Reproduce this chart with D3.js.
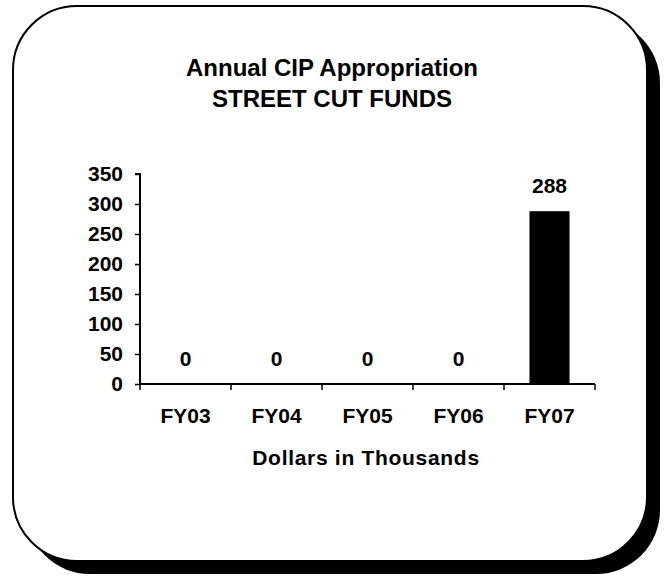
<!DOCTYPE html>
<html>
<head>
<meta charset="utf-8">
<script src="https://cdn.jsdelivr.net/npm/d3@7"></script>
<style>
  body { margin: 0; background: #fff; }
  svg text { font-family: "Liberation Sans", Arial, sans-serif; font-weight: bold; fill: #000; }
</style>
</head>
<body>
<svg id="chart" width="668" height="577"></svg>
<script>
// Chart data
const years = ["FY03", "FY04", "FY05", "FY06", "FY07"];
const amounts = [0, 0, 0, 0, 288];
const yTicks = [0, 50, 100, 150, 200, 250, 300, 350];
const titleLines = ["Annual CIP Appropriation", "STREET CUT FUNDS"];
const xTitle = "Dollars in Thousands";

const svg = d3.select("#chart");

// Frame with drop shadow
const box = { x: 13, y: 6, w: 634, h: 555, r: 64 };
svg.append("rect")
    .attr("x", box.x + 13).attr("y", box.y + 13)
    .attr("width", box.w).attr("height", box.h)
    .attr("rx", box.r).attr("ry", box.r)
    .style("fill", "#000");
svg.append("rect")
    .attr("x", box.x).attr("y", box.y)
    .attr("width", box.w).attr("height", box.h)
    .attr("rx", box.r).attr("ry", box.r)
    .style("fill", "#fff")
    .style("stroke", "#000")
    .style("stroke-width", 2);

// Title
svg.selectAll(".title")
    .data(titleLines)
    .enter()
    .append("text")
    .attr("class", "title")
    .attr("x", 332)
    .attr("y", (d, i) => 76 + i * 31)
    .attr("text-anchor", "middle")
    .style("font-size", "24px")
    .text(d => d);

// Plot area
const margin = { left: 140, top: 174, right: 595, bottom: 384 };

const x = d3.scaleBand()
    .domain(years)
    .range([margin.left, margin.right])
    .paddingInner(0.56)
    .paddingOuter(0.28);

const y = d3.scaleLinear()
    .domain([0, 350])
    .range([margin.bottom, margin.top]);

// Bars
svg.selectAll(".bar")
    .data(amounts)
    .enter()
    .append("rect")
    .attr("class", "bar")
    .attr("x", (d, i) => x(years[i]))
    .attr("y", d => y(d))
    .attr("width", x.bandwidth())
    .attr("height", d => y(0) - y(d))
    .style("fill", "#000");

// Value labels
svg.selectAll(".val")
    .data(amounts)
    .enter()
    .append("text")
    .attr("class", "val")
    .attr("x", (d, i) => x(years[i]) + x.bandwidth() / 2)
    .attr("y", d => y(d) - 18)
    .attr("text-anchor", "middle")
    .style("font-size", "21px")
    .text(d => d);

// Y axis
const yAxis = svg.append("g")
    .attr("transform", `translate(${margin.left},0)`)
    .call(d3.axisLeft(y).tickValues(yTicks).tickSize(5).tickPadding(12));

// X axis, ticks sit between the categories
const xAxis = svg.append("g")
    .attr("transform", `translate(0,${margin.bottom})`)
    .call(d3.axisBottom(x).tickSize(0).tickPadding(24));

const edges = d3.range(years.length + 1).map(i => margin.left + i * (margin.right - margin.left) / years.length);
xAxis.selectAll(".edge")
    .data(edges)
    .enter()
    .append("line")
    .attr("class", "edge")
    .attr("x1", d => d).attr("x2", d => d)
    .attr("y1", 0).attr("y2", 6)
    .style("stroke", "#000")
    .style("stroke-width", 1.5);

[yAxis, xAxis].forEach(g => {
    g.select(".domain").style("stroke", "#000").style("stroke-width", 2);
    g.selectAll(".tick line").style("stroke", "#000").style("stroke-width", 1.5);
    g.selectAll("text")
        .style("font-family", "'Liberation Sans', Arial, sans-serif")
        .style("font-weight", "bold")
        .style("font-size", "21px")
        .style("fill", "#000");
});
yAxis.select(".domain").attr("d", `M-5,${margin.top}H0V${margin.bottom}`);
xAxis.select(".domain").attr("d", `M${margin.left},0H${margin.right}`);

// X axis title
svg.append("text")
    .attr("x", 366)
    .attr("y", 465)
    .attr("text-anchor", "middle")
    .style("font-size", "21px")
    .style("letter-spacing", "0.7px")
    .text(xTitle);
</script>
</body>
</html>
